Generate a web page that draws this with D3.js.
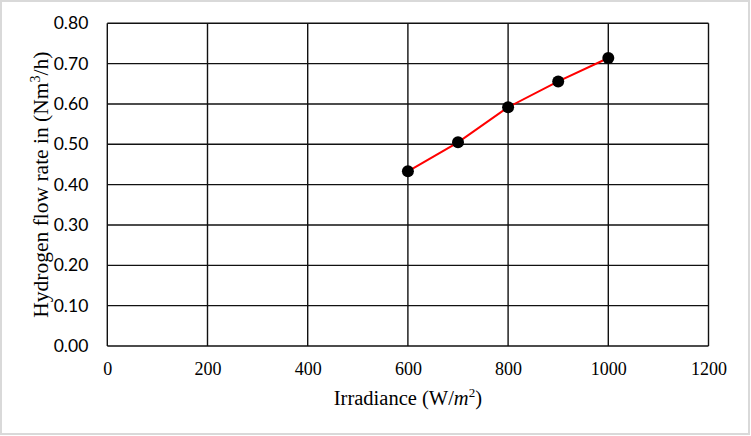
<!DOCTYPE html>
<html>
<head>
<meta charset="utf-8">
<script src="https://cdn.jsdelivr.net/npm/d3@7"></script>
<style>
  body { margin: 0; background: #fff; }
</style>
</head>
<body>
<div class="chart"></div>
<script>
"use strict";
const irradiance = [600, 700, 800, 900, 1000];
const flowRate = [0.433, 0.505, 0.592, 0.656, 0.714];
const xTicks = [0, 200, 400, 600, 800, 1000, 1200];
const yTicks = [0, 0.1, 0.2, 0.3, 0.4, 0.5, 0.6, 0.7, 0.8];

const width = 751, height = 436;
const margin = { top: 23.3, right: 42.5, bottom: 90, left: 107.3 };

const svg = d3.select(".chart")
  .append("svg")
  .attr("width", width)
  .attr("height", height);

// outer frame
svg.append("rect")
  .attr("x", 1).attr("y", 1)
  .attr("width", width - 3).attr("height", height - 3)
  .attr("fill", "#fff")
  .attr("stroke", "#d9d9d9")
  .attr("stroke-width", 2);

const xScale = d3.scaleLinear().domain([0, 1200]).range([margin.left, width - margin.right]);
const yScale = d3.scaleLinear().domain([0, 0.8]).range([height - margin.bottom, margin.top]);

// grid
svg.append("g")
  .selectAll("line")
  .data(xTicks)
  .join("line")
  .attr("x1", d => xScale(d)).attr("x2", d => xScale(d))
  .attr("y1", yScale(0.8)).attr("y2", yScale(0))
  .attr("stroke", "#111")
  .attr("stroke-width", 1.4);

svg.append("g")
  .selectAll("line")
  .data(yTicks)
  .join("line")
  .attr("x1", xScale(0)).attr("x2", xScale(1200))
  .attr("y1", d => yScale(d)).attr("y2", d => yScale(d))
  .attr("stroke", "#111")
  .attr("stroke-width", 1.4);

// axes labels
const xAxis = d3.axisBottom(xScale).tickValues(xTicks).tickSize(0).tickPadding(0).tickFormat(d3.format("d"));
svg.append("g")
  .attr("transform", `translate(0, ${yScale(0)})`)
  .attr("font-size", 18)
  .call(xAxis)
  .call(g => g.select(".domain").remove())
  .selectAll("text")
  .attr("dy", "1.6em")
  .style("font-family", "'Liberation Serif', 'Times New Roman', serif")
  .style("font-size", "18px")
  .attr("fill", "#000");

const yAxis = d3.axisLeft(yScale).tickValues(yTicks).tickSize(0).tickPadding(19).tickFormat(d3.format(".2f"));
svg.append("g")
  .attr("transform", `translate(${xScale(0)}, 0)`)
  .call(yAxis)
  .call(g => g.select(".domain").remove())
  .selectAll("text")
  .style("font-family", "Lato, 'Open Sans', sans-serif")
  .style("font-size", "17.5px")
  .attr("fill", "#000");

// series
const pts = irradiance.map((d, i) => ({ x: d, y: flowRate[i] }));
const line = d3.line().x(d => xScale(d.x)).y(d => yScale(d.y));

svg.append("path")
  .datum(pts)
  .attr("d", line)
  .attr("fill", "none")
  .attr("stroke", "#ff0000")
  .attr("stroke-width", 2);

svg.append("g")
  .selectAll("circle")
  .data(pts)
  .join("circle")
  .attr("cx", d => xScale(d.x))
  .attr("cy", d => yScale(d.y))
  .attr("r", 6)
  .attr("fill", "#000");

// titles
const xTitle = svg.append("text")
  .attr("x", (xScale(0) + xScale(1200)) / 2)
  .attr("y", 405)
  .attr("text-anchor", "middle")
  .style("font-family", "'Liberation Serif', 'Times New Roman', serif")
  .style("font-size", "20.5px");
xTitle.append("tspan").text("Irradiance (W/");
xTitle.append("tspan").style("font-style", "italic").text("m");
xTitle.append("tspan").attr("dy", -8).style("font-size", "13px").text("2");
xTitle.append("tspan").attr("dy", 8).text(")");

const yTitle = svg.append("text")
  .attr("transform", `translate(48, ${(yScale(0) + yScale(0.8)) / 2}) rotate(-90)`)
  .attr("text-anchor", "middle")
  .style("font-family", "'Liberation Serif', 'Times New Roman', serif")
  .style("font-size", "21.5px");
yTitle.append("tspan").text("Hydrogen flow rate in (Nm");
yTitle.append("tspan").attr("dy", -8).style("font-size", "14px").text("3");
yTitle.append("tspan").attr("dy", 8).text("/h)");
</script>
</body>
</html>
